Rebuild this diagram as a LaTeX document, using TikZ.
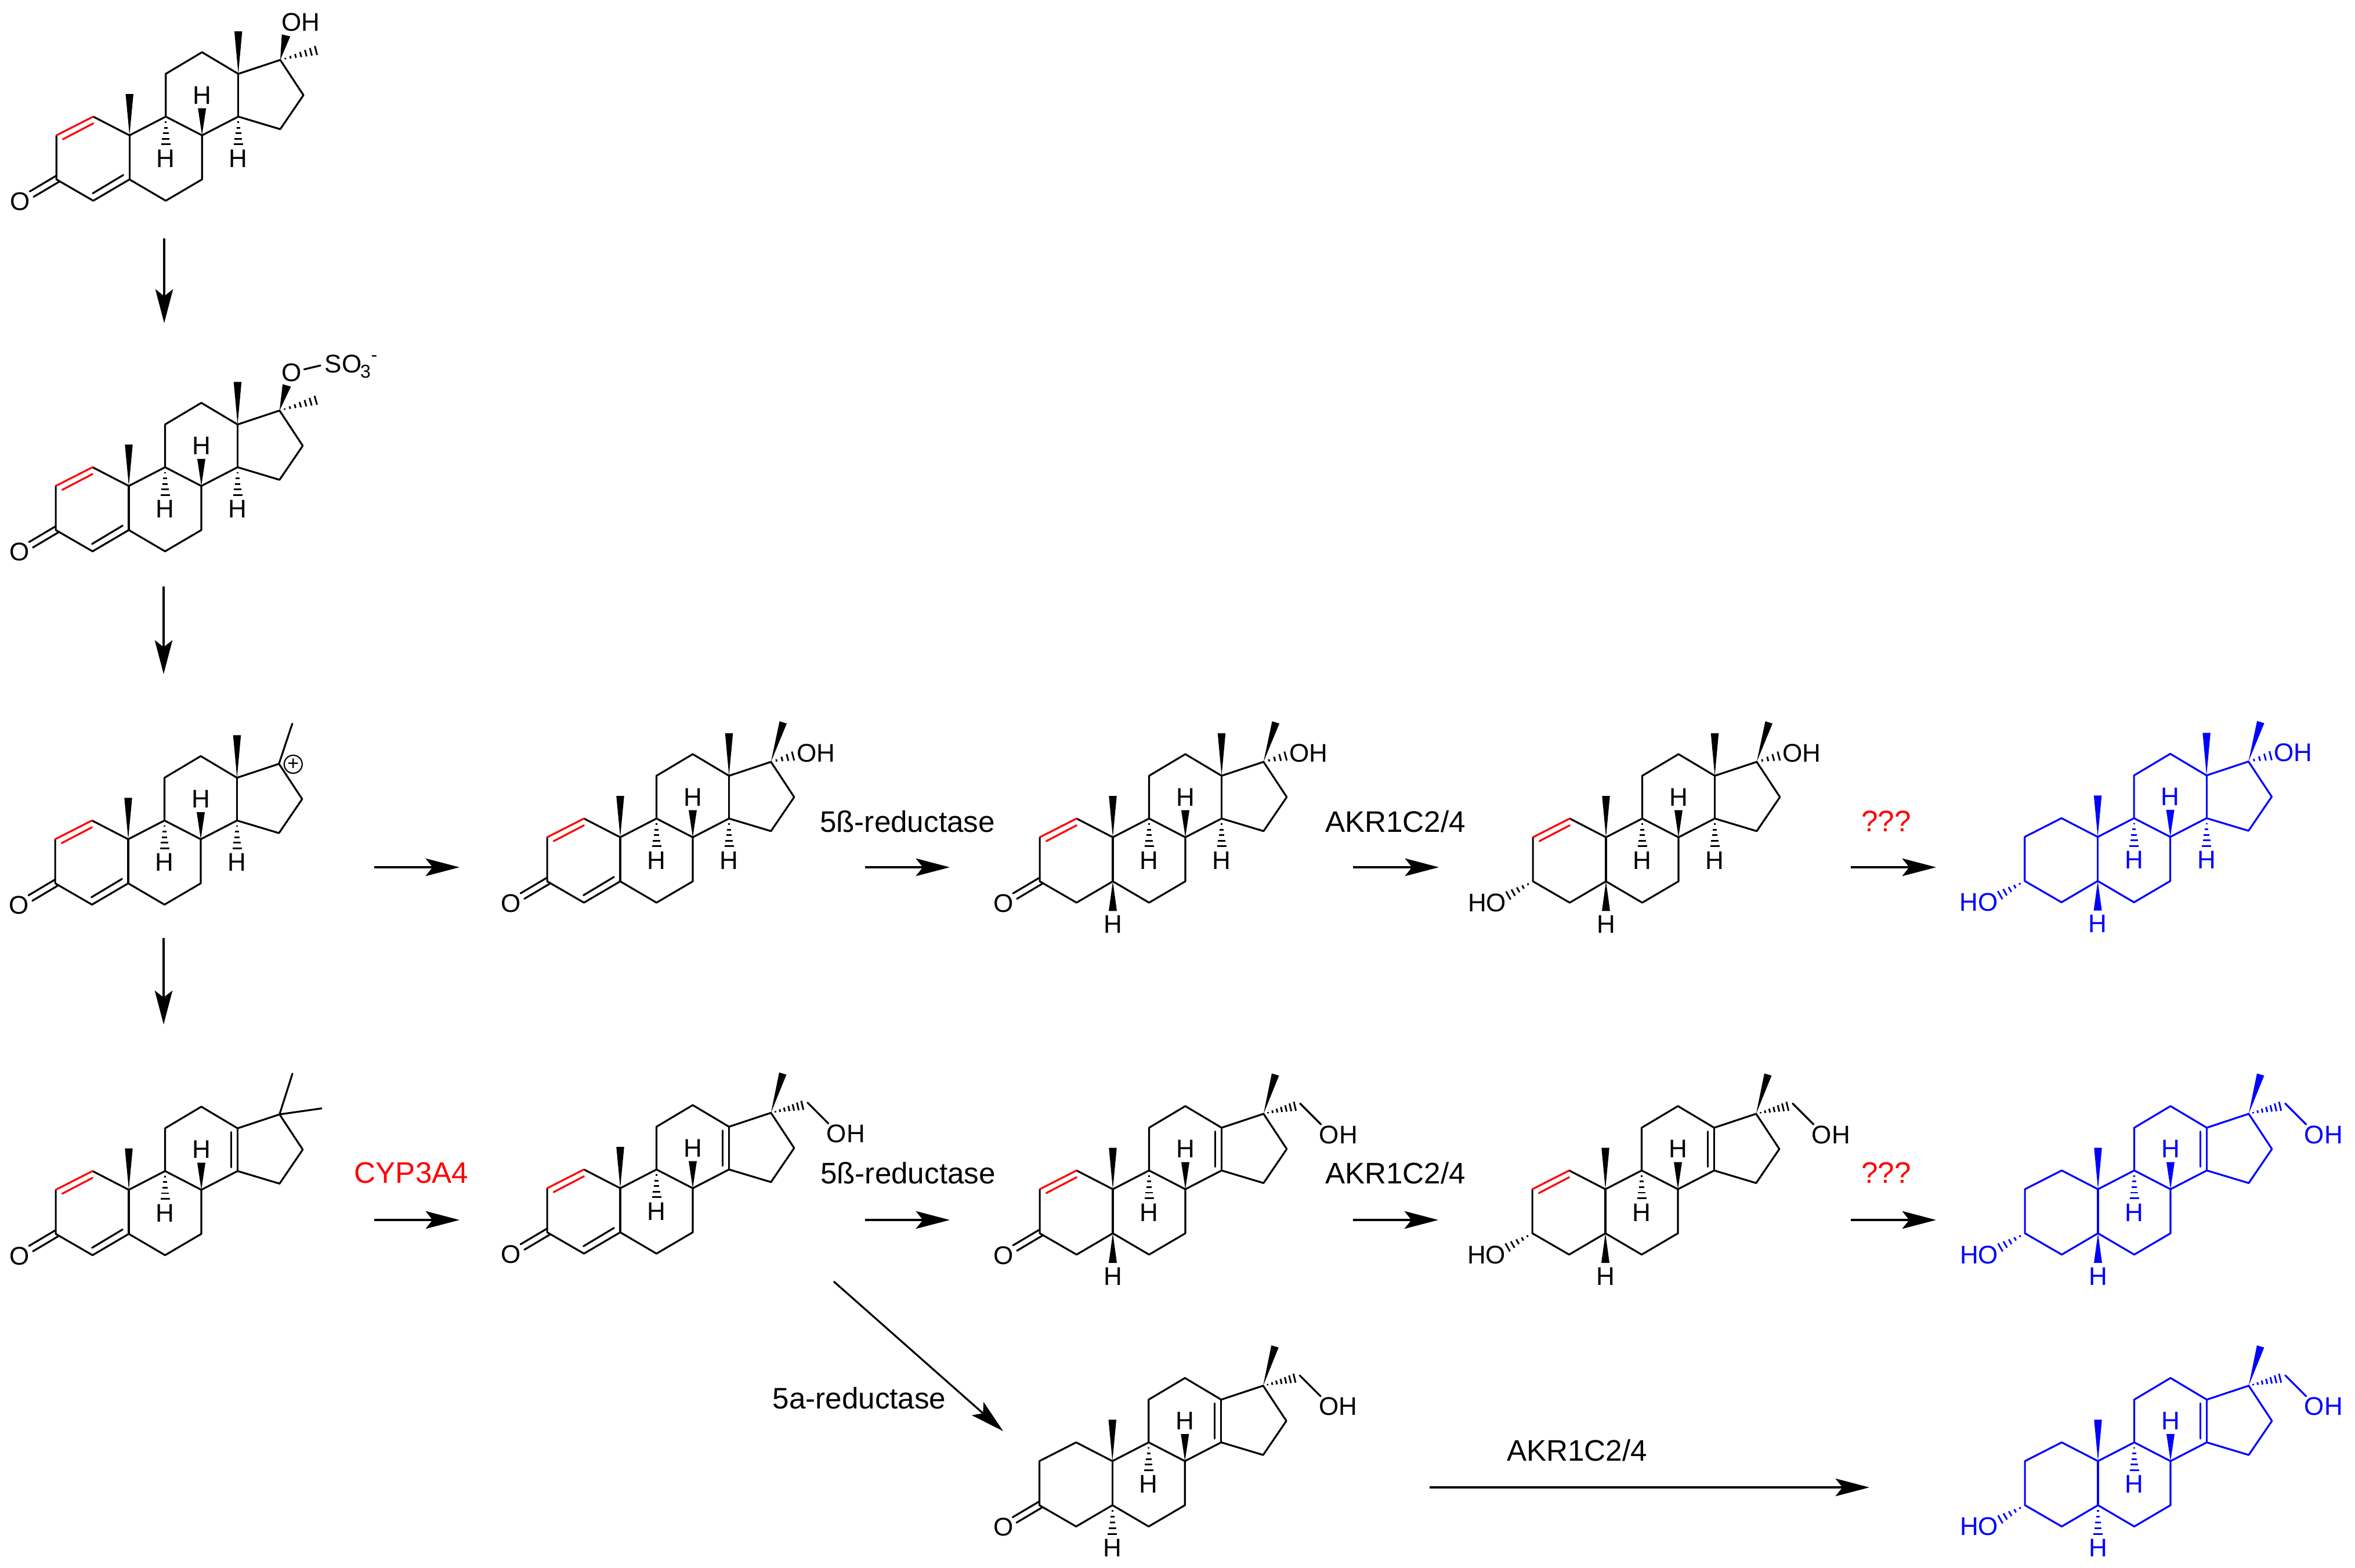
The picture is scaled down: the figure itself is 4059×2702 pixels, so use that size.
\documentclass[tikz,border=0pt]{standalone}
\usepackage{fontspec}
\setmainfont{Liberation Sans}
\usetikzlibrary{arrows.meta}
\tikzset{
  x=0.25pt,y=-0.25pt,
  bond/.style={line width=0.8pt,line join=round,line cap=round},
  hashline/.style={line width=0.72pt},
  redbond/.style={bond,draw=red},
  atomlab/.style={inner sep=0pt,font=\fontsize{11}{12}\selectfont},
  sublab/.style={inner sep=0pt,font=\fontsize{8}{9}\selectfont},
  chargelab/.style={circle,draw,line width=0.55pt,inner sep=0pt,minimum size=7.75pt,font=\fontsize{8.5}{9}\selectfont},
  steplab/.style={inner sep=0pt,font=\fontsize{12.8}{14}\selectfont},
  redlab/.style={steplab,text=red},
  rxn/.style={line width=0.8pt,-{Stealth[length=14.6pt,width=7.6pt,inset=3pt]}}
}
% filled wedge: narrow end at (#1,#2), wide end centred at (#3,#4), width #5
\newcommand\wedgeb[5]{%
  \pgfmathsetmacro\wdx{#3-(#1)}\pgfmathsetmacro\wdy{#4-(#2)}%
  \pgfmathsetmacro\wlen{sqrt(\wdx*\wdx+\wdy*\wdy)}%
  \pgfmathsetmacro\wnx{-\wdy/\wlen*#5/2}\pgfmathsetmacro\wny{\wdx/\wlen*#5/2}%
  \fill (#1,#2) -- ({#3+(\wnx)},{#4+(\wny)}) -- ({#3-(\wnx)},{#4-(\wny)}) -- cycle;}
% hashed wedge with #5 stripes
\newcommand\hashb[5]{%
  \pgfmathsetmacro\hdx{#3-(#1)}\pgfmathsetmacro\hdy{#4-(#2)}%
  \pgfmathsetmacro\hlen{sqrt(\hdx*\hdx+\hdy*\hdy)}%
  \pgfmathsetmacro\hnx{-\hdy/\hlen}\pgfmathsetmacro\hny{\hdx/\hlen}%
  \foreach \hi in {1,...,#5}{%
    \pgfmathsetmacro\ht{\hi/#5}\pgfmathsetmacro\hw{8*\ht}%
    \draw[hashline] ({#1+(\hdx)*\ht+(\hnx)*\hw},{#2+(\hdy)*\ht+(\hny)*\hw}) -- ({#1+(\hdx)*\ht-(\hnx)*\hw},{#2+(\hdy)*\ht-(\hny)*\hw});}}
\newcommand\alab[4]{\node[atomlab] (\mn-#1) at (#2,#3) {#4};}
% common skeleton
\newcommand\core{%
  \draw[bond] (-62.5,-32.3) -- (0,0) -- (62.5,-32.3) -- (125,0) -- (187.5,-32.3) -- (259.8,-10.6) -- (299.8,-69.3) -- (259.8,-130) -- (187.5,-106) -- (125,-143.3) -- (62.5,-106) -- (62.5,-32.3);
  \draw[bond] (187.5,-32.3) -- (187.5,-106);
  \draw[bond] (-125.9,0) -- (-125.9,76) -- (-62.5,112.7) -- (0,76) -- (62.5,112.7) -- (125,76) -- (125,0);
  \draw[bond] (0,0) -- (0,76);
  \wedgeb{0}{0}{0}{-71.3}{13.5}
  \wedgeb{125}{0}{125}{-46.7}{14}
  \alab{H8}{125}{-69.3}{H}
  \hashb{62.5}{-32.3}{62.5}{15.5}{5}
  \alab{H9}{62.5}{40}{H}}
\newcommand\methyl{\wedgeb{187.5}{-106}{187.5}{-179.3}{13.5}}
\newcommand\hfourteen{\hashb{187.5}{-32.3}{187.5}{15.5}{5}\alab{H14}{187.5}{40}{H}}
\newcommand\tetra{\draw[bond] (176.5,-99.5) -- (176.5,-38.8);}
\newcommand\redene{\draw[redbond] (-125.9,0) -- (-62.5,-32.3);\draw[redbond] (-114.7,6.7) -- (-62.5,-20.6);}
\newcommand\plainab{\draw[bond] (-125.9,0) -- (-62.5,-32.3);}
\newcommand\ketone{\draw[bond] (-125.9,69.4) -- (-171.9,96.7);\draw[bond] (-121.4,80) -- (-165.2,106);\alab{O3}{-188.2}{114}{O}}
\newcommand\enone{\draw[bond] (-63.4,100) -- (-10.7,68.4);\ketone}
\newcommand\alcohol{\hashb{-125.9}{76}{-168.3}{100.3}{5}\alab{O3}{-204.9}{113}{HO}}
\newcommand\fivebeta{\wedgeb{0}{76}{0}{127}{14}\alab{H5}{0}{150}{H}}
\newcommand\fivealpha{\hashb{0}{76}{0}{126}{5}\alab{H5}{0}{150}{H}}
\newcommand\seventeenol{\wedgeb{259.8}{-130}{280.8}{-198}{13}\hashb{259.8}{-130}{297.8}{-140}{4}\alab{O17}{337}{-145.3}{OH}}
\newcommand\hydroxymethyl{\wedgeb{259.8}{-130}{280.2}{-197.7}{13}\hashb{259.8}{-130}{313.8}{-143}{7}\draw[bond] (322.8,-147.7) -- (358.8,-111.7);\alab{O17}{388.8}{-94}{OH}}
\begin{document}
\begin{tikzpicture}
\useasboundingbox (0,0) rectangle (4059,2702);
\fill[white] (0,0) rectangle (4059,2702);
% column 1
\begin{scope}[shift={(223.2,233.3)}]\def\mn{ma}
  \core\methyl\hfourteen\redene\enone
  \wedgeb{259.8}{-130}{269.8}{-172.3}{15}
  \hashb{259.8}{-130}{321.4}{-146.3}{7}
  \alab{O17}{294.8}{-195.3}{OH}
\end{scope}
\begin{scope}[shift={(222,837.7)}]\def\mn{mb}
  \core\methyl\hfourteen\redene\enone
  \wedgeb{259.8}{-130}{272.3}{-173.3}{15}
  \hashb{259.8}{-130}{322.3}{-147.7}{7}
  \alab{O17}{280.2}{-195.4}{O}
  \draw[bond] (302.2,-201) -- (330.3,-207.7);
  \alab{S}{369.7}{-210.7}{SO}
  \node[sublab] (mb-sub) at (408,-197) {3};
  \node[sublab] (mb-chg) at (423,-220) {-};
\end{scope}
\begin{scope}[shift={(221,1446.7)}]\def\mn{mc}
  \core\methyl\hfourteen\redene\enone
  \draw[bond] (259.8,-130) -- (282.8,-199.3);
  \node[chargelab] (mc-plus) at (284.3,-129.3) {+};
\end{scope}
\begin{scope}[shift={(222,2051)}]\def\mn{md}
  \core\tetra\redene\enone
  \draw[bond] (259.8,-130) -- (282.1,-200.3);
  \draw[bond] (259.8,-130) -- (332.1,-140.3);
\end{scope}
% row 3
\begin{scope}[shift={(1069,1443.3)}]\def\mn{me}
  \core\methyl\hfourteen\redene\enone\seventeenol
\end{scope}
\begin{scope}[shift={(1918,1443.3)}]\def\mn{mf}
  \core\methyl\hfourteen\redene\ketone\fivebeta\seventeenol
\end{scope}
\begin{scope}[shift={(2768,1443.3)}]\def\mn{mg}
  \core\methyl\hfourteen\redene\alcohol\fivebeta\seventeenol
\end{scope}
\begin{scope}[shift={(3615.6,1442.7)},color=blue]\def\mn{mh}
  \core\methyl\hfourteen\plainab\alcohol\fivebeta\seventeenol
\end{scope}
% row 4
\begin{scope}[shift={(1069,2048.3)}]\def\mn{mi}
  \core\tetra\redene\enone\hydroxymethyl
\end{scope}
\begin{scope}[shift={(1918,2050)}]\def\mn{mj}
  \core\tetra\redene\ketone\fivebeta\hydroxymethyl
\end{scope}
\begin{scope}[shift={(2767,2050)}]\def\mn{mk}
  \core\tetra\redene\alcohol\fivebeta\hydroxymethyl
\end{scope}
\begin{scope}[shift={(3616,2050)},color=blue]\def\mn{ml}
  \core\tetra\plainab\alcohol\fivebeta\hydroxymethyl
\end{scope}
% row 5
\begin{scope}[shift={(1917.3,2518.7)}]\def\mn{mm}
  \core\tetra\plainab\ketone\fivealpha\hydroxymethyl
\end{scope}
\begin{scope}[shift={(3616,2518.7)},color=blue]\def\mn{mn}
  \core\tetra\plainab\alcohol\fivealpha\hydroxymethyl
\end{scope}
% arrows
\coordinate (a1s) at (283,411);   \coordinate (a1e) at (283,557);
\coordinate (a2s) at (282,1011);  \coordinate (a2e) at (282,1162);
\coordinate (a3s) at (282,1617);  \coordinate (a3e) at (282,1766);
\coordinate (a4s) at (645,1495);  \coordinate (a4e) at (792,1495);
\coordinate (a5s) at (1491,1495); \coordinate (a5e) at (1637,1495);
\coordinate (a6s) at (2332,1495); \coordinate (a6e) at (2480,1495);
\coordinate (a7s) at (3190,1495); \coordinate (a7e) at (3337,1495);
\coordinate (a8s) at (645,2103);  \coordinate (a8e) at (792,2103);
\coordinate (a9s) at (1491,2103); \coordinate (a9e) at (1637,2103);
\coordinate (a10s) at (2332,2103);\coordinate (a10e) at (2479,2103);
\coordinate (a11s) at (3190,2103);\coordinate (a11e) at (3337,2103);
\coordinate (a12s) at (1437,2209);\coordinate (a12e) at (1729,2467);
\coordinate (a13s) at (2463.5,2564);\coordinate (a13e) at (3222,2564);
\foreach \k in {1,...,13}{\draw[rxn] (a\k s) -- (a\k e);}
% labels
\node[steplab] (l1) at (1564,1416) {5ß-reductase};
\node[steplab] (l2) at (1565,2022) {5ß-reductase};
\node[steplab] (l3) at (2405,1416) {AKR1C2/4};
\node[steplab] (l4) at (2405,2022) {AKR1C2/4};
\node[steplab] (l5) at (2718,2500) {AKR1C2/4};
\node[redlab] (l6) at (3251,1416) {???};
\node[redlab] (l7) at (3251,2022) {???};
\node[redlab] (l8) at (709,2022) {CYP3A4};
\node[steplab] (l9) at (1481,2410) {5a-reductase};
\end{tikzpicture}
\end{document}
